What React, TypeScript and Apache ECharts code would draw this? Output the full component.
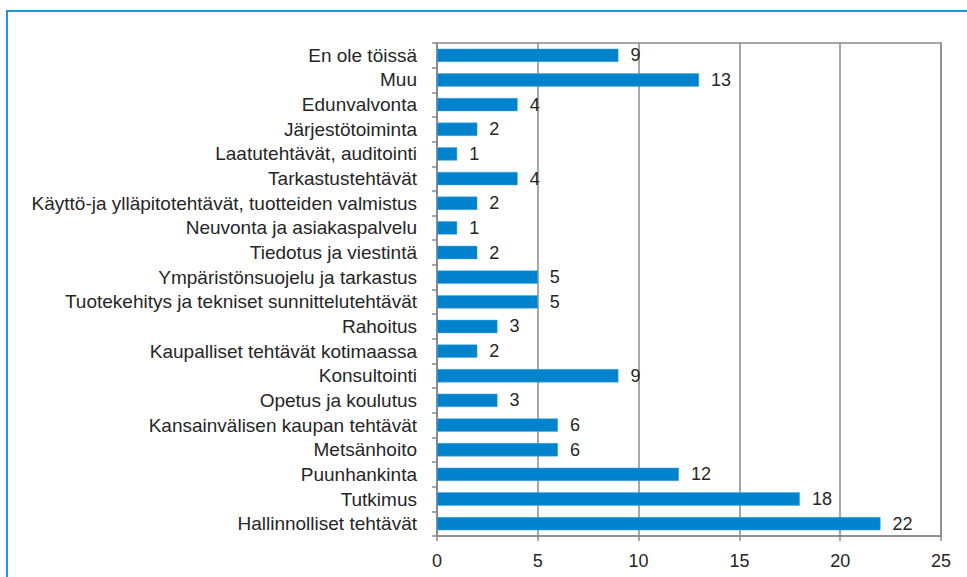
import React, { useEffect, useRef } from "react";
import * as echarts from "echarts";

const categories = [
  "En ole töissä",
  "Muu",
  "Edunvalvonta",
  "Järjestötoiminta",
  "Laatutehtävät, auditointi",
  "Tarkastustehtävät",
  "Käyttö-ja ylläpitotehtävät, tuotteiden valmistus",
  "Neuvonta ja asiakaspalvelu",
  "Tiedotus ja viestintä",
  "Ympäristönsuojelu ja tarkastus",
  "Tuotekehitys ja tekniset sunnittelutehtävät",
  "Rahoitus",
  "Kaupalliset tehtävät kotimaassa",
  "Konsultointi",
  "Opetus ja koulutus",
  "Kansainvälisen kaupan tehtävät",
  "Metsänhoito",
  "Puunhankinta",
  "Tutkimus",
  "Hallinnolliset tehtävät",
];

const values = [9, 13, 4, 2, 1, 4, 2, 1, 2, 5, 5, 3, 2, 9, 3, 6, 6, 12, 18, 22];

const xTicks = { min: 0, max: 25, interval: 5 };

export default function App() {
  const ref = useRef<HTMLDivElement>(null);
  useEffect(() => {
    document.body.style.margin = "0";
    const chart = echarts.init(ref.current!, null, { renderer: "svg" });
    const font = "'Liberation Sans', Arial, sans-serif";
    const gray = "#8a8a8a";
    chart.setOption({
      animation: false,
      backgroundColor: "#ffffff",
      textStyle: { fontFamily: font },
      graphic: [
        {
          type: "rect",
          shape: { x: 7, y: 11, width: 980, height: 600 },
          style: { fill: "none", stroke: "#2591d9", lineWidth: 2 },
          silent: true,
        },
      ],
      grid: {
        left: 437,
        right: 26,
        top: 43,
        bottom: 41,
        show: true,
        borderColor: gray,
        borderWidth: 1.5,
        backgroundColor: "transparent",
      },
      xAxis: {
        type: "value",
        min: xTicks.min,
        max: xTicks.max,
        interval: xTicks.interval,
        axisLine: { show: true, lineStyle: { color: gray, width: 1.5 } },
        axisTick: { show: true, length: 5, lineStyle: { color: gray, width: 1.5 } },
        splitLine: { show: true, lineStyle: { color: gray, width: 1.5 } },
        axisLabel: { color: "#262626", fontSize: 18, margin: 16, fontFamily: font },
      },
      yAxis: {
        type: "category",
        data: categories,
        inverse: true,
        axisLine: { show: true, lineStyle: { color: gray, width: 1.5 } },
        axisTick: { show: true, length: 5, interval: 0, lineStyle: { color: gray, width: 1.5 } },
        axisLabel: {
          color: "#262626",
          fontSize: 19,
          margin: 20,
          interval: 0,
          hideOverlap: false,
          fontFamily: font,
        },
      },
      series: [
        {
          type: "bar",
          data: values,
          barCategoryGap: "46%",
          itemStyle: { color: "#0083cc", borderColor: "#4aa8e0", borderWidth: 0.5 },
          label: {
            show: true,
            position: "right",
            distance: 12,
            color: "#262626",
            fontSize: 18,
            fontFamily: font,
          },
        },
      ],
    });
    return () => chart.dispose();
  }, []);
  return <div ref={ref} style={{ width: 967, height: 577 }} />;
}
